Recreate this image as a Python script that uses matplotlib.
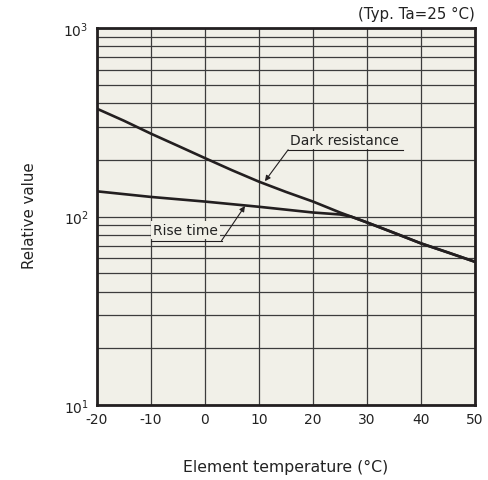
import numpy as np
import matplotlib
matplotlib.use("Agg")
import matplotlib.pyplot as plt
from matplotlib.ticker import LogLocator, NullFormatter

# values
temp = [-20, -15, -10, -5, 0, 5, 10, 15, 20, 25, 30, 35, 40, 45, 50]
dark_res = [373, 322, 275, 237, 204, 176, 153, 135, 120, 105, 93, 82, 72, 64.5, 57.5]
rise_temp = [-20, -10, 0, 10, 20, 25, 27, 30, 40, 50]
rise_time = [136, 127, 120, 112.6, 105, 102.5, 100, 93, 72, 57.5]

xticks = [-20, -10, 0, 10, 20, 30, 40, 50]
yticks = [10, 100, 1000]
ytick_labels = ["$10^1$", "$10^2$", "$10^3$"]

bg = "#f1f0e8"
ink = "#231f20"
gridc = "#3c3c3c"

plt.rcParams["mathtext.default"] = "regular"

fig = plt.figure(figsize=(4.89, 4.81), dpi=100)
ax = fig.add_axes([97 / 489, 1 - 406 / 481, 378 / 489, 377 / 481])
ax.set_facecolor(bg)

ax.plot(temp, dark_res, color=ink, lw=1.9, zorder=5, solid_capstyle="butt")
ax.plot(rise_temp, rise_time, color=ink, lw=1.9, zorder=5, solid_capstyle="butt")

ax.set_yscale("log")
ax.set_xlim(-20, 50)
ax.set_ylim(10, 1000)
ax.set_xticks(xticks)
ax.set_xticklabels([str(t) for t in xticks])
ax.set_yticks(yticks)
ax.set_yticklabels(ytick_labels)
ax.yaxis.set_minor_locator(LogLocator(base=10, subs=np.arange(2, 10)))
ax.yaxis.set_minor_formatter(NullFormatter())
ax.tick_params(which="both", length=0, labelsize=10, colors="#222222")
ax.tick_params(axis="x", pad=5)
ax.tick_params(axis="y", pad=6)

ax.grid(which="major", axis="x", color=gridc, lw=0.9, zorder=1)
ax.grid(which="both", axis="y", color=gridc, lw=0.9, zorder=1)
ax.set_axisbelow(True)
for s in ax.spines.values():
    s.set_linewidth(2)
    s.set_color(ink)
    s.set_zorder(6)

# annotations
box = dict(facecolor=bg, edgecolor="none", pad=1.5)
arrow = dict(arrowstyle="-|>", lw=0.8, color=ink, mutation_scale=8, shrinkA=0, shrinkB=0)

ax.text(25.9, 255, "Dark resistance", ha="center", va="center", fontsize=10,
        color="#222222", bbox=box, zorder=3)
ax.plot([15.4, 36.7], [226, 226], color=ink, lw=0.8, zorder=4)
ax.annotate("", xy=(11.1, 154), xytext=(15.4, 226), arrowprops=arrow, zorder=4)

ax.text(-3.6, 84.8, "Rise time", ha="center", va="center", fontsize=10,
        color="#222222", bbox=box, zorder=3)
ax.plot([-10.07, 3.07], [74.5, 74.5], color=ink, lw=0.8, zorder=4)
ax.annotate("", xy=(7.4, 113.7), xytext=(3.07, 74.5), arrowprops=arrow, zorder=4)

fig.text(30 / 489, 1 - 216 / 481, "Relative value", rotation=90, ha="center",
         va="center", fontsize=10.8, color="#222222")
fig.text(286 / 489, 1 - 467 / 481, "Element temperature (°C)", ha="center",
         va="center", fontsize=11.3, color="#222222")
fig.text(475 / 489, 1 - 14 / 481, "(Typ. Ta=25 °C)", ha="right", va="center",
         fontsize=10.8, color="#222222")

fig.savefig("out.png", dpi=100, facecolor="white")
